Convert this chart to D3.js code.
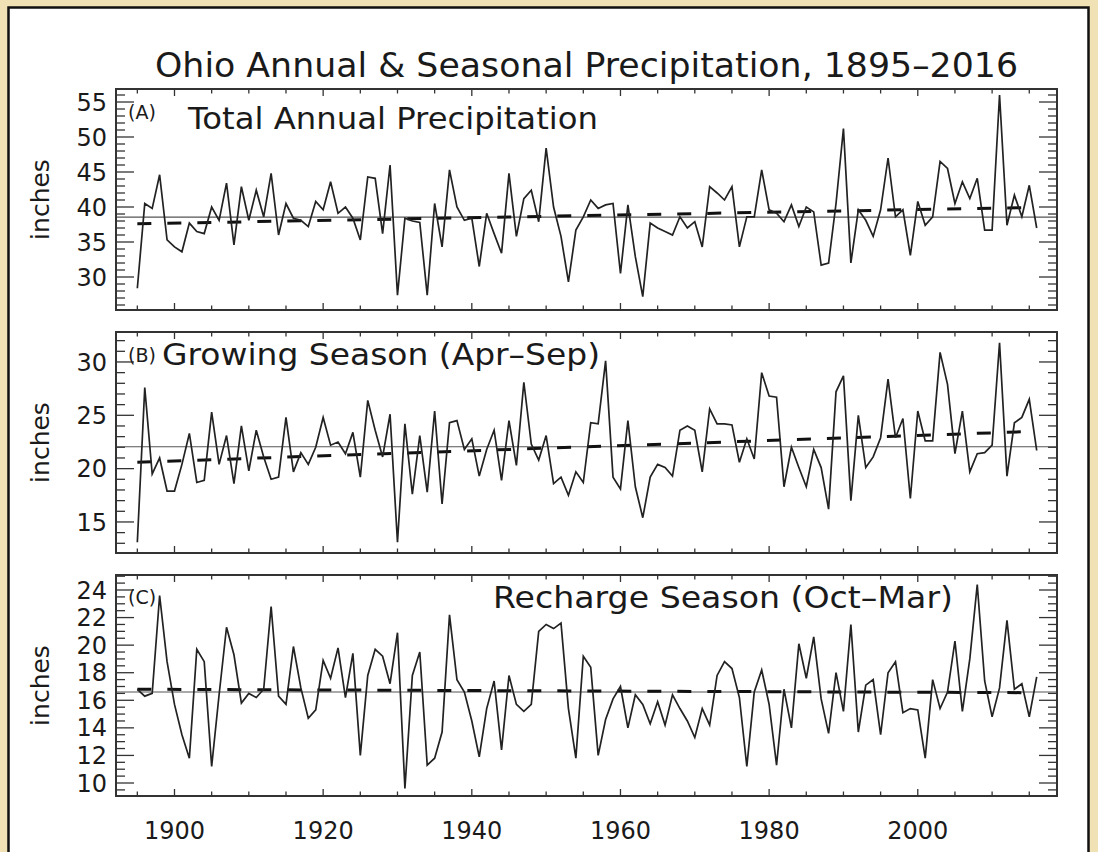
<!DOCTYPE html>
<html><head><meta charset="utf-8">
<script src="https://cdn.jsdelivr.net/npm/d3@7"></script>
<style>html,body{margin:0;padding:0;background:#f0e2b4;} svg{display:block}</style>
</head><body><svg id="c" width="1098" height="852"></svg>
<script>
// ---------------- data ----------------
const years = d3.range(1895, 2017);
const annual = [
  28.4, 40.5, 39.8, 44.6, 35.3,
  34.3, 33.6, 37.7, 36.5, 36.2, 40.0, 38.1, 43.4, 34.6, 42.9,
  38.1, 42.4, 38.6, 44.8, 36.0, 40.5, 38.4, 38.1, 37.2, 40.8,
  39.6, 43.6, 39.1, 40.0, 38.4, 35.3, 44.3, 44.1, 36.2, 46.0,
  27.4, 38.4, 38.0, 37.8, 27.4, 40.5, 34.3, 45.3, 40.0, 38.1,
  38.4, 31.5, 39.1, 36.2, 33.4, 44.8, 35.8, 41.2, 42.4, 37.9,
  48.4, 40.0, 35.8, 29.3, 36.7, 38.6, 41.0, 39.8, 40.3, 40.5,
  30.5, 40.3, 32.9, 27.2, 37.7, 37.0, 36.5, 36.0, 38.6, 37.0,
  37.9, 34.3, 42.9, 42.0, 41.0, 42.9, 34.3, 38.6, 38.6, 45.3,
  39.6, 39.1, 37.9, 40.3, 37.2, 40.0, 39.3, 31.7, 32.0, 40.5,
  51.2, 32.0, 39.6, 38.1, 35.8, 39.6, 47.0, 38.6, 39.6, 33.1,
  40.8, 37.4, 38.6, 46.5, 45.5, 40.5, 43.6, 41.2, 44.1, 36.7,
  36.7, 56.0, 37.4, 41.7, 38.6, 43.1, 37.0
];
const growing = [
  13.1, 27.6, 19.5, 21.0, 17.9,
  17.9, 20.4, 23.3, 18.7, 18.9, 25.3, 20.4, 23.1, 18.6, 24.0,
  19.8, 23.6, 21.1, 19.0, 19.2, 24.8, 19.7, 21.5, 20.4, 22.0,
  24.8, 22.2, 22.5, 21.4, 23.4, 19.2, 26.4, 23.6, 21.1, 25.1,
  13.1, 24.2, 17.6, 23.1, 17.8, 25.4, 16.7, 24.3, 24.5, 21.8,
  22.8, 19.3, 21.8, 23.6, 18.9, 24.5, 20.3, 28.1, 22.3, 20.8,
  23.1, 18.6, 19.2, 17.5, 19.7, 18.7, 24.3, 24.2, 30.1, 19.2,
  18.1, 24.5, 18.3, 15.4, 19.2, 20.4, 20.1, 19.3, 23.6, 24.0,
  23.6, 19.7, 25.6, 24.2, 24.2, 24.1, 20.6, 22.8, 20.9, 29.0,
  26.8, 26.7, 18.3, 22.0, 20.1, 18.3, 21.8, 20.1, 16.2, 27.2,
  28.7, 17.0, 25.0, 20.1, 21.1, 22.9, 28.4, 22.9, 24.7, 17.2,
  25.4, 22.6, 22.6, 30.9, 27.9, 21.4, 25.4, 19.7, 21.4, 21.5,
  22.2, 31.8, 19.3, 24.3, 24.8, 26.5, 21.7
];
const recharge = [
  16.8, 16.3, 16.5, 23.6, 18.8,
  15.7, 13.5, 11.8, 19.7, 18.8, 11.2, 16.4, 21.3, 19.3, 15.8,
  16.5, 16.2, 16.8, 22.8, 16.3, 15.7, 19.9, 16.9, 14.7, 15.3,
  18.9, 17.6, 19.8, 16.2, 19.4, 12.0, 17.8, 19.7, 19.2, 17.2,
  20.9, 9.6, 17.8, 19.5, 11.3, 11.8, 13.7, 22.2, 17.5, 16.6,
  14.5, 11.9, 15.4, 17.4, 12.4, 17.8, 15.7, 15.2, 15.7, 21.0,
  21.5, 21.2, 21.6, 15.4, 11.8, 19.2, 18.4, 12.0, 14.6, 16.1,
  17.0, 14.0, 16.4, 15.7, 14.3, 15.9, 14.2, 16.4, 15.4, 14.5,
  13.3, 15.4, 14.2, 17.8, 18.8, 18.3, 16.2, 11.2, 16.6, 18.2,
  15.7, 11.3, 16.8, 14.0, 20.1, 17.6, 20.6, 16.1, 13.6, 18.0,
  15.2, 21.5, 13.7, 17.1, 17.5, 13.5, 18.0, 18.8, 15.1, 15.4,
  15.3, 11.8, 17.5, 15.4, 16.6, 20.3, 15.2, 19.0, 24.4, 17.4,
  14.8, 16.9, 21.8, 16.8, 17.2, 14.8, 17.7
];
const seriesMeans = [38.55, 22.05, 16.6];
const trendStart = [37.6, 20.6, 16.8];
const trendEnd = [39.95, 23.5, 16.55];
const panelTags = ["(A)", "(B)", "(C)"];
const panelTitles = ["Total Annual Precipitation", "Growing Season (Apr\u2013Sep)", "Recharge Season (Oct\u2013Mar)"];
const yTickLabels = [[30, 35, 40, 45, 50, 55], [15, 20, 25, 30], [10, 12, 14, 16, 18, 20, 22, 24]];
const xTickLabels = [1900, 1920, 1940, 1960, 1980, 2000];
const chartTitle = "Ohio Annual & Seasonal Precipitation, 1895\u20132016";
const yLabel = "inches";

// ---------------- layout ----------------
const svg = d3.select("#c");
const FONT = "'DejaVu Sans', sans-serif";
const INK = "#1a1a1a";

svg.append("rect").attr("x", 0).attr("y", 0).attr("width", 1098).attr("height", 852).attr("fill", "#f0e2b4");
svg.append("rect").attr("x", 8.5).attr("y", 7.5).attr("width", 1080).attr("height", 880)
  .attr("fill", "#ffffff").attr("stroke", "#111").attr("stroke-width", 2.5);

svg.append("text").attr("x", 155).attr("y", 77)
  .attr("font-family", FONT).attr("font-size", 33).attr("fill", INK)
  .attr("textLength", 863).attr("lengthAdjust", "spacingAndGlyphs")
  .text(chartTitle);

const x = d3.scaleLinear().domain([1892.13, 2018.73]).range([116, 1057]);

const panels = [
  { data: annual, top: 89, bottom: 310, domain: [25.286, 56.857], minor: 1, major: 5,
    tagPos: [128, 119], titlePos: [188, 129], titleLen: 410 },
  { data: growing, top: 332, bottom: 553, domain: [12.09, 32.81], minor: 1, major: 5,
    tagPos: [128, 362], titlePos: [162, 365], titleLen: 438 },
  { data: recharge, top: 575, bottom: 796, domain: [9.057, 25.088], minor: 0.5, major: 2,
    tagPos: [128, 604], titlePos: [493, 608], titleLen: 460 }
];

panels.forEach((p, i) => {
  const y = d3.scaleLinear().domain(p.domain).range([p.bottom, p.top]);
  const g = svg.append("g");
  const L = x.range()[0], R = x.range()[1];

  // y ticks (left & right, inward)
  const yt = d3.range(Math.ceil(p.domain[0] / p.minor) * p.minor, p.domain[1], p.minor);
  yt.forEach(v => {
    const isMajor = Math.abs(v / p.major - Math.round(v / p.major)) < 1e-6;
    const len = isMajor ? 18 : 9;
    const yy = y(v);
    g.append("line").attr("x1", L).attr("x2", L + len).attr("y1", yy).attr("y2", yy)
      .attr("stroke", "#333").attr("stroke-width", 1.3);
    g.append("line").attr("x1", R).attr("x2", R - len).attr("y1", yy).attr("y2", yy)
      .attr("stroke", "#333").attr("stroke-width", 1.3);
  });
  // x ticks (top & bottom, inward)
  d3.range(1895, 2018, 5).forEach(yr => {
    const len = yr % 20 === 0 ? 7 : 4.5;
    const xx = x(yr);
    g.append("line").attr("x1", xx).attr("x2", xx).attr("y1", p.bottom).attr("y2", p.bottom - len)
      .attr("stroke", "#333").attr("stroke-width", 1.3);
    g.append("line").attr("x1", xx).attr("x2", xx).attr("y1", p.top).attr("y2", p.top + len)
      .attr("stroke", "#333").attr("stroke-width", 1.3);
  });

  // y tick labels
  yTickLabels[i].forEach(v => {
    g.append("text").attr("x", 107).attr("y", y(v)).attr("dy", "0.36em")
      .attr("text-anchor", "end").attr("font-family", FONT).attr("font-size", 24)
      .attr("fill", INK).text(v);
  });

  // y axis title
  g.append("text")
    .attr("transform", `translate(49,${(p.top + p.bottom) / 2}) rotate(-90)`)
    .attr("text-anchor", "middle").attr("font-family", FONT).attr("font-size", 25)
    .attr("fill", INK).text(yLabel);

  // mean line
  g.append("line").attr("x1", L).attr("x2", R)
    .attr("y1", y(seriesMeans[i])).attr("y2", y(seriesMeans[i]))
    .attr("stroke", "#555").attr("stroke-width", 1.1);

  // trend (dashed)
  g.append("line")
    .attr("x1", x(years[0])).attr("x2", x(years[years.length - 1]))
    .attr("y1", y(trendStart[i])).attr("y2", y(trendEnd[i]))
    .attr("stroke", "#111").attr("stroke-width", 3)
    .attr("stroke-dasharray", "14,16");

  // data line
  const line = d3.line().x((d, j) => x(years[j])).y(d => y(d));
  g.append("path").datum(p.data).attr("d", line)
    .attr("fill", "none").attr("stroke", "#222").attr("stroke-width", 1.7)
    .attr("stroke-linejoin", "miter");

  // frame
  g.append("rect").attr("x", L).attr("y", p.top).attr("width", R - L).attr("height", p.bottom - p.top)
    .attr("fill", "none").attr("stroke", "#333").attr("stroke-width", 2);

  // panel labels
  g.append("text").attr("x", p.tagPos[0]).attr("y", p.tagPos[1])
    .attr("font-family", FONT).attr("font-size", 19).attr("fill", INK).text(panelTags[i]);
  g.append("text").attr("x", p.titlePos[0]).attr("y", p.titlePos[1])
    .attr("font-family", FONT).attr("font-size", 30).attr("fill", INK)
    .attr("textLength", p.titleLen).attr("lengthAdjust", "spacingAndGlyphs")
    .text(panelTitles[i]);
});

// x tick labels
xTickLabels.forEach(yr => {
  svg.append("text").attr("x", x(yr)).attr("y", 839).attr("text-anchor", "middle")
    .attr("font-family", FONT).attr("font-size", 24).attr("fill", INK).text(yr);
});
</script>
</body></html>
